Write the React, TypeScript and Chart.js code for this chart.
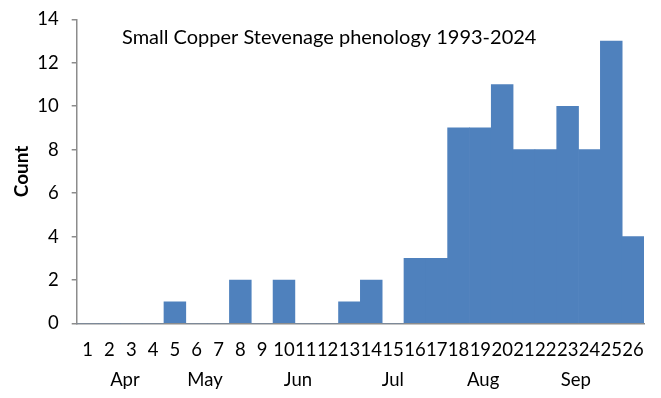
import React, { useEffect, useRef } from "react";
import { Chart, registerables } from "chart.js";

Chart.register(...registerables);

const weeks = ["1","2","3","4","5","6","7","8","9","10","11","12","13","14","15","16","17","18","19","20","21","22","23","24","25","26"];
const counts = [0,0,0,0,1,0,0,2,0,2,0,0,1,2,0,3,3,9,9,11,8,8,10,8,13,4];
const monthNames = ["Apr","May","Jun","Jul","Aug","Sep"];
// month label anchors expressed as (fractional) week numbers on the category axis
const monthAnchorWeeks = [2.71, 6.38, 10.64, 14.99, 19.13, 23.38];
const yTicksMax = 14;
const yStep = 2;
const chartTitle = "Small Copper Stevenage phenology 1993-2024";
const yAxisTitle = "Count";

const FONT = "Lato, 'Open Sans', sans-serif";

export default function App() {
  const ref = useRef<HTMLCanvasElement | null>(null);
  useEffect(() => {
    document.body.style.margin = "0";
    const canvas = ref.current!;
    const overlay = {
      id: "overlay",
      afterDraw(chart: any) {
        const ctx = chart.ctx;
        const x = chart.scales.x;
        ctx.save();
        ctx.fillStyle = "#000";
        ctx.font = `20px ${FONT}`;
        ctx.textAlign = "left";
        ctx.textBaseline = "alphabetic";
        ctx.fillText(chartTitle, 122, 44);
        ctx.font = `18.5px ${FONT}`;
        ctx.textAlign = "center";
        ctx.textBaseline = "middle";
        monthNames.forEach((m, i) => {
          const px = x.getPixelForValue(monthAnchorWeeks[i] - 1);
          ctx.fillText(m, px, 380);
        });
        ctx.restore();
      },
    };
    const chart = new Chart(canvas, {
      type: "bar",
      data: {
        labels: weeks,
        datasets: [
          {
            data: counts,
            backgroundColor: "#4f81bd",
            borderWidth: 0,
            barPercentage: 1,
            categoryPercentage: 1,
          },
        ],
      },
      options: {
        responsive: false,
        animation: false,
        layout: { padding: { left: 0, right: 17, top: 19.3, bottom: 0 } },
        plugins: {
          legend: { display: false },
          tooltip: { enabled: false },
          title: { display: false },
        },
        scales: {
          x: {
            grid: { display: false },
            border: { display: true, color: "#8c8c8c", width: 1.5 },
            ticks: {
              autoSkip: false,
              maxRotation: 0,
              minRotation: 0,
              color: "#000",
              font: { family: FONT, size: 18.5 },
              padding: 7,
            },
            afterFit(scale: any) {
              scale.height = 398 - 323.5;
              scale.paddingLeft = 0;
              scale.paddingRight = 0;
            },
          },
          y: {
            min: 0,
            max: yTicksMax,
            ticks: {
              stepSize: yStep,
              color: "#000",
              font: { family: FONT, size: 18.5 },
              padding: 13,
            },
            grid: {
              display: true,
              drawOnChartArea: false,
              drawTicks: true,
              tickLength: 5,
              color: "#8c8c8c",
              lineWidth: 1.5,
            },
            border: { display: true, color: "#8c8c8c", width: 1.5 },
            title: {
              display: true,
              text: yAxisTitle,
              color: "#000",
              font: { family: FONT, size: 19, weight: "bold" },
              padding: { top: 10, bottom: 0 },
            },
            afterFit(scale: any) {
              scale.width = 76.7;
              scale.paddingTop = 0;
              scale.paddingBottom = 0;
            },
          },
        },
      },
      plugins: [overlay],
    });
    return () => chart.destroy();
  }, []);
  return <canvas ref={ref} width={661} height={398} />;
}
